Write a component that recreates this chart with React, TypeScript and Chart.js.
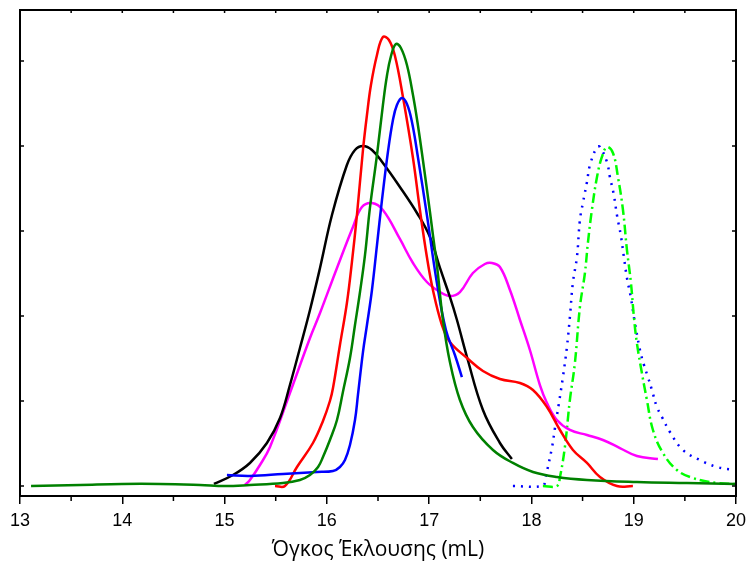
import React, { useEffect, useRef } from "react";
import { Chart, registerables } from "chart.js";

Chart.register(...registerables);

// Black solid
const blackX = [14.896, 15.082, 15.248, 15.414, 15.542, 15.639, 15.737, 15.835, 15.933, 16.05, 16.196, 16.275, 16.353, 16.441, 16.548, 16.714, 16.881, 17.008, 17.106, 17.203, 17.272, 17.37, 17.526, 17.692, 17.809];
const blackY = [0.024, 0.129, 0.271, 0.506, 0.8, 1.188, 1.624, 2.071, 2.565, 3.188, 3.776, 3.953, 4.0, 3.953, 3.8, 3.518, 3.212, 2.929, 2.565, 2.224, 1.953, 1.518, 0.894, 0.506, 0.318];

// Magenta solid
const magentaX = [15.199, 15.248, 15.346, 15.444, 15.639, 15.835, 15.933, 16.099, 16.255, 16.343, 16.441, 16.548, 16.714, 16.842, 16.978, 17.106, 17.203, 17.301, 17.428, 17.545, 17.614, 17.692, 17.79, 17.888, 17.985, 18.083, 18.152, 18.249, 18.376, 18.543, 18.699, 18.865, 19.031, 19.237];
const magentaY = [0.012, 0.071, 0.247, 0.459, 1.094, 1.741, 2.035, 2.565, 3.047, 3.282, 3.329, 3.247, 2.906, 2.624, 2.4, 2.282, 2.235, 2.282, 2.506, 2.612, 2.624, 2.576, 2.306, 1.953, 1.6, 1.188, 0.976, 0.776, 0.659, 0.6, 0.541, 0.447, 0.353, 0.318];

// Red solid
const redX = [15.493, 15.59, 15.708, 15.864, 15.962, 16.03, 16.06, 16.128, 16.196, 16.245, 16.294, 16.353, 16.392, 16.431, 16.49, 16.548, 16.607, 16.666, 16.744, 16.842, 16.91, 16.978, 17.037, 17.125, 17.203, 17.37, 17.526, 17.692, 17.888, 18.015, 18.152, 18.279, 18.406, 18.543, 18.67, 18.836, 18.992];
const redY = [0, 0, 0.224, 0.506, 0.765, 1.0, 1.153, 1.659, 2.153, 2.635, 3.188, 3.953, 4.365, 4.718, 5.071, 5.282, 5.247, 5.059, 4.576, 3.859, 3.247, 2.694, 2.306, 1.894, 1.694, 1.506, 1.353, 1.259, 1.212, 1.129, 0.929, 0.659, 0.424, 0.271, 0.106, 0, 0];

// Dark green solid
const greenX = [13.108, 13.587, 13.997, 14.369, 14.76, 15.004, 15.248, 15.571, 15.737, 15.835, 15.914, 15.962, 16.03, 16.099, 16.157, 16.226, 16.275, 16.324, 16.373, 16.421, 16.49, 16.548, 16.587, 16.627, 16.675, 16.724, 16.783, 16.842, 16.89, 16.939, 17.008, 17.037, 17.076, 17.135, 17.203, 17.301, 17.428, 17.624, 17.819, 18.015, 18.249, 18.543, 19.031, 19.52, 19.999];
const greenY = [0, 0.012, 0.024, 0.024, 0.012, 0, 0.012, 0.035, 0.071, 0.129, 0.224, 0.341, 0.541, 0.776, 1.106, 1.506, 1.894, 2.282, 2.718, 3.271, 3.894, 4.482, 4.824, 5.059, 5.2, 5.153, 4.953, 4.6, 4.247, 3.835, 3.224, 2.953, 2.6, 1.953, 1.459, 1.012, 0.694, 0.424, 0.271, 0.165, 0.106, 0.071, 0.047, 0.035, 0.024];

// Blue solid
const blueX = [15.023, 15.248, 15.571, 15.903, 16.06, 16.128, 16.177, 16.226, 16.275, 16.304, 16.353, 16.392, 16.441, 16.49, 16.539, 16.597, 16.646, 16.685, 16.734, 16.783, 16.832, 16.89, 16.978, 17.076, 17.164, 17.252, 17.32];
const blueY = [0.129, 0.118, 0.141, 0.165, 0.176, 0.224, 0.306, 0.482, 0.776, 1.071, 1.576, 1.894, 2.306, 2.835, 3.365, 3.929, 4.306, 4.482, 4.565, 4.494, 4.282, 3.871, 3.188, 2.388, 1.835, 1.541, 1.282];

// Blue dotted
const blueDotX = [17.819, 18.112, 18.132, 18.2, 18.23, 18.269, 18.308, 18.347, 18.376, 18.406, 18.445, 18.474, 18.503, 18.543, 18.572, 18.641, 18.67, 18.738, 18.767, 18.806, 18.836, 18.875, 18.904, 18.934, 18.973, 19.002, 19.061, 19.1, 19.139, 19.178, 19.227, 19.276, 19.354, 19.481, 19.647, 19.813, 19.99];
const blueDotY = [0, 0, 0.071, 0.447, 0.682, 0.976, 1.282, 1.635, 1.988, 2.4, 2.694, 3.129, 3.329, 3.576, 3.776, 3.988, 3.988, 3.812, 3.635, 3.424, 3.188, 2.941, 2.694, 2.447, 2.212, 1.988, 1.6, 1.424, 1.282, 1.129, 0.929, 0.812, 0.635, 0.424, 0.306, 0.224, 0.188];

// Lime dashed
const limeX = [18.112, 18.249, 18.279, 18.327, 18.376, 18.425, 18.474, 18.523, 18.552, 18.591, 18.641, 18.689, 18.738, 18.797, 18.846, 18.895, 18.934, 18.973, 19.002, 19.031, 19.08, 19.129, 19.188, 19.286, 19.422, 19.579, 19.813, 19.99];
const limeY = [0, 0, 0.106, 0.459, 1.012, 1.447, 2.106, 2.506, 2.859, 3.247, 3.635, 3.871, 3.988, 3.918, 3.635, 3.247, 2.776, 2.388, 1.988, 1.682, 1.329, 1.012, 0.659, 0.388, 0.188, 0.094, 0.035, 0.024];

const xMin = 13;
const xMax = 20;
const yMin = -0.1176;
const yMax = 5.6;
const yTickValues = [0, 1, 2, 3, 4, 5];
const xLabel = "Όγκος Έκλουσης (mL)";

const pts = (xs: number[], ys: number[]) => xs.map((x, i) => ({ x, y: ys[i] }));

const framePlugin = {
  id: "frame",
  afterDraw(chart: any) {
    const { ctx, chartArea, scales } = chart;
    const xs = scales.x;
    const ys = scales.y;
    ctx.save();
    ctx.strokeStyle = "#000";
    ctx.lineWidth = 2;
    ctx.strokeRect(chartArea.left, chartArea.top, chartArea.right - chartArea.left, chartArea.bottom - chartArea.top);
    ctx.lineWidth = 1.5;
    ctx.beginPath();
    for (let v = xMin; v <= xMax + 1e-9; v += 0.5) {
      const px = xs.getPixelForValue(v);
      ctx.moveTo(px, chartArea.top);
      ctx.lineTo(px, chartArea.top + 3);
      if (Math.abs(v - Math.round(v)) > 0.1) {
        ctx.moveTo(px, chartArea.bottom);
        ctx.lineTo(px, chartArea.bottom + 5);
      }
    }
    for (const v of yTickValues) {
      const py = ys.getPixelForValue(v);
      ctx.moveTo(chartArea.left, py);
      ctx.lineTo(chartArea.left + 4, py);
      ctx.moveTo(chartArea.right, py);
      ctx.lineTo(chartArea.right - 4, py);
    }
    ctx.stroke();
    ctx.restore();
  },
};

export default function App() {
  const ref = useRef<HTMLCanvasElement>(null);
  useEffect(() => {
    if (!ref.current) return;
    const lw = 2.5;
    const chart = new Chart(ref.current, {
      type: "line",
      data: {
        datasets: [
          { data: pts(greenX, greenY), borderColor: "#008000", borderWidth: lw },
          { data: pts(blueX, blueY), borderColor: "#0000FF", borderWidth: lw },
          { data: pts(redX, redY), borderColor: "#FF0000", borderWidth: lw },
          { data: pts(blackX, blackY), borderColor: "#000000", borderWidth: lw },
          { data: pts(magentaX, magentaY), borderColor: "#FF00FF", borderWidth: lw },
          { data: pts(limeX, limeY), borderColor: "#00FF00", borderWidth: lw, borderDash: [10, 4, 2, 4] },
          { data: pts(blueDotX, blueDotY), borderColor: "#0000FF", borderWidth: 2.5, borderDash: [2, 6] },
        ] as any,
      },
      options: {
        animation: false,
        responsive: false,
        parsing: false as any,
        layout: { padding: { left: 20, right: 12, top: 10, bottom: 0 } },
        elements: {
          point: { radius: 0 },
          line: { tension: 0.4, fill: false },
        },
        plugins: { legend: { display: false }, tooltip: { enabled: false } },
        scales: {
          x: {
            type: "linear",
            min: xMin,
            max: xMax,
            afterFit: (s: any) => {
              s.height = 70;
              s.paddingLeft = 0;
              s.paddingRight = 0;
            },
            ticks: {
              stepSize: 1,
              color: "#000",
              padding: 6,
              font: { family: "'Liberation Sans', Arial, sans-serif", size: 18 },
            },
            grid: {
              display: true,
              drawOnChartArea: false,
              drawTicks: true,
              tickLength: 8,
              color: "#000",
              lineWidth: 1.5,
            },
            border: { display: false },
            title: {
              display: true,
              text: xLabel,
              color: "#000",
              padding: { top: 4, bottom: 3 },
              font: { family: "'Open Sans', 'Noto Sans', sans-serif", size: 21 },
            },
          },
          y: {
            type: "linear",
            display: false,
            min: yMin,
            max: yMax,
          },
        },
      },
      plugins: [framePlugin],
    });
    return () => chart.destroy();
  }, []);
  return (
    <div style={{ position: "fixed", left: 0, top: 0, width: 748, height: 566, background: "#fff" }}>
      <canvas ref={ref} width={748} height={566} style={{ width: 748, height: 566 }} />
    </div>
  );
}
